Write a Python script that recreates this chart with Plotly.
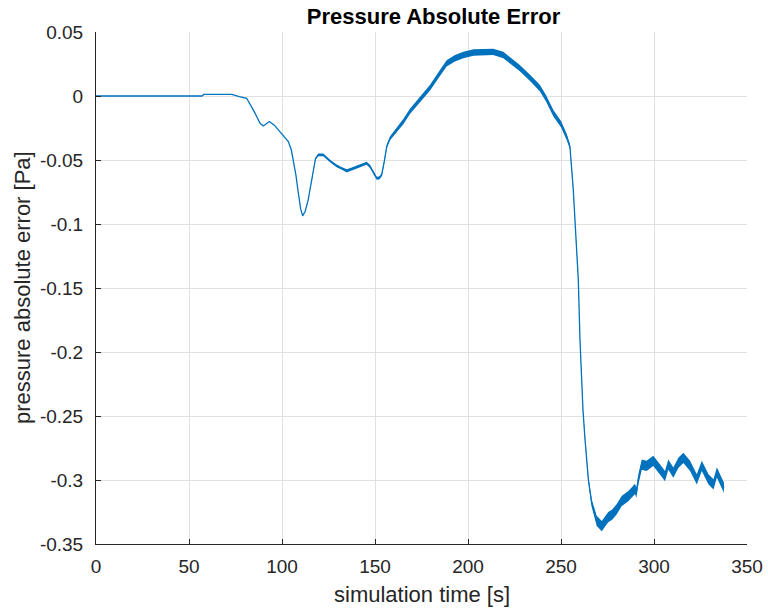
import plotly.graph_objects as go

# ---- data ----
time = [0, 57, 58, 73, 77, 81, 85, 88.2, 90, 93.2,
        96, 98.9, 101, 103.4, 105, 106, 107.5, 108.8, 110, 111.1,
        112.5, 114.1, 115.5, 116.8, 118, 119.5, 122.2, 126, 129.4, 132,
        134.8, 137.5, 140.2, 143, 145.5, 147.3, 149, 150.9, 152.3, 153.6,
        155, 156.3, 158.1, 161.5, 165.2, 168.8, 172.4, 176, 179.6, 184,
        188.5, 193, 197.5, 203, 208.2, 213.5, 219, 223.5, 228, 233.5,
        238.7, 242, 245.9, 250, 253, 254.8, 255.7, 256.6, 257.5, 258.4,
        259.3, 260.2, 261.8, 262.9, 264.7, 266.5, 269.2, 271.9, 273.5, 275.4,
        277.5, 279.9, 282.6, 286.2, 289.8, 290.5, 291.6, 293.4, 296, 299.6,
        303.2, 305.9, 307.7, 310.4, 313.1, 315.8, 319.4, 323, 325.7, 329.3,
        332, 333.8, 336.3, 337.6]

error = [0, 0, 0.0012, 0.0012, -0.0005, -0.0018, -0.012, -0.0213, -0.0234, -0.020,
         -0.023, -0.0278, -0.031, -0.0356, -0.042, -0.05, -0.062, -0.076, -0.088, -0.0936,
         -0.09, -0.081, -0.069, -0.0577, -0.049, -0.046, -0.046, -0.051, -0.0546, -0.0565,
         -0.0585, -0.057, -0.0556, -0.054, -0.0525, -0.055, -0.059, -0.0642, -0.064, -0.0616,
         -0.051, -0.0395, -0.033, -0.027, -0.020, -0.012, -0.0057, 0.001, 0.0065, 0.016,
         0.0255, 0.0295, 0.032, 0.034, 0.0345, 0.0345, 0.032, 0.027, 0.0216, 0.014,
         0.006, -0.002, -0.0135, -0.022, -0.0317, -0.0395, -0.055, -0.073, -0.0967, -0.1175,
         -0.1435, -0.19, -0.245, -0.268, -0.2995, -0.318, -0.332, -0.336, -0.333, -0.329,
         -0.327, -0.323, -0.3165, -0.3126, -0.307, -0.310, -0.2995, -0.288, -0.289, -0.285,
         -0.2917, -0.297, -0.288, -0.2943, -0.2866, -0.2827, -0.289, -0.2995, -0.289, -0.2995,
         -0.3034, -0.294, -0.302, -0.306]

# half-width of the visible noise band around the curve
spread = [0, 0, 0, 0, 0, 0, 0, 0, 0, 0,
          0, 0, 0, 0, 0, 0, 0, 0, 0, 0,
          0, 0, 0.0005, 0.0006, 0.0008, 0.001, 0.001, 0.001, 0.001, 0.001,
          0.0012, 0.0012, 0.0012, 0.0012, 0.0012, 0.0012, 0.0012, 0.0012, 0.0012, 0.0012,
          0.0012, 0.0014, 0.0016, 0.0018, 0.002, 0.002, 0.002, 0.0022, 0.0022, 0.0024,
          0.0025, 0.0025, 0.0025, 0.0025, 0.0025, 0.0025, 0.0025, 0.0025, 0.0025, 0.0025,
          0.0025, 0.0025, 0.0025, 0.0025, 0.0025, 0.002, 0.001, 0.001, 0.001, 0.001,
          0.001, 0.001, 0.001, 0.0015, 0.002, 0.003, 0.004, 0.004, 0.004, 0.004,
          0.004, 0.004, 0.004, 0.004, 0.004, 0.004, 0.004, 0.004, 0.004, 0.004,
          0.004, 0.004, 0.004, 0.004, 0.004, 0.004, 0.004, 0.004, 0.004, 0.004,
          0.004, 0.004, 0.004, 0.004]

xtick_vals = [0, 50, 100, 150, 200, 250, 300, 350]
xtick_labels = ["0", "50", "100", "150", "200", "250", "300", "350"]
ytick_vals = [0.05, 0, -0.05, -0.1, -0.15, -0.2, -0.25, -0.3, -0.35]
ytick_labels = ["0.05", "0", "-0.05", "-0.1", "-0.15", "-0.2", "-0.25", "-0.3", "-0.35"]

title_text = "Pressure Absolute Error"
x_title = "simulation time [s]"
y_title = "pressure absolute error [Pa]"

LINE = "#0072BD"
AX = "#262626"
GRID = "#e1e1e1"
FONT = "Liberation Sans, Arial, Helvetica, sans-serif"

W, H = 768, 611
L, R, T, B = 96, 21, 32, 67
PW, PH = W - L - R, H - T - B

upper = [e + s for e, s in zip(error, spread)]
lower = [e - s for e, s in zip(error, spread)]

fig = go.Figure()
fig.add_trace(go.Scatter(x=time, y=upper, mode="lines", line=dict(width=0, color=LINE),
                         hoverinfo="skip", showlegend=False))
fig.add_trace(go.Scatter(x=time, y=lower, mode="lines", line=dict(width=0, color=LINE),
                         fill="tonexty", fillcolor=LINE, hoverinfo="skip", showlegend=False))
fig.add_trace(go.Scatter(x=time, y=error, mode="lines", line=dict(width=1.3, color=LINE),
                         showlegend=False))

fig.update_layout(
    width=W, height=H,
    margin=dict(l=L, r=R, t=T, b=B, autoexpand=False),
    paper_bgcolor="white", plot_bgcolor="white",
    font=dict(family=FONT, size=19, color=AX),
    title=dict(text="<b>" + title_text + "</b>", x=(433.5 - L) / PW, xref="paper", xanchor="center",
               y=1 - 16 / H, yref="container", yanchor="middle",
               font=dict(family=FONT, size=22, color="black")),
    xaxis=dict(range=[0, 350], tickvals=xtick_vals, ticktext=xtick_labels,
               showgrid=True, gridcolor=GRID, gridwidth=1, zeroline=False,
               showline=True, linecolor=AX, linewidth=1, automargin=False,
               ticks="inside", ticklen=5, tickcolor=AX,
               tickfont=dict(size=19, color=AX), ticklabelstandoff=5),
    yaxis=dict(range=[-0.35, 0.05], tickvals=ytick_vals, ticktext=ytick_labels,
               showgrid=True, gridcolor=GRID, gridwidth=1, zeroline=False,
               showline=True, linecolor=AX, linewidth=1, automargin=False,
               ticks="inside", ticklen=5, tickcolor=AX,
               tickfont=dict(size=19, color=AX), ticklabelstandoff=8),
    annotations=[
        dict(text=x_title, xref="paper", yref="paper", x=0.5, y=-(594 - T - PH) / PH,
             xanchor="center", yanchor="middle", showarrow=False,
             font=dict(family=FONT, size=22, color=AX)),
        dict(text=y_title, xref="paper", yref="paper", x=(22 - L) / PW, y=0.5,
             xanchor="center", yanchor="middle", textangle=-90, showarrow=False,
             font=dict(family=FONT, size=22, color=AX)),
    ],
)

fig.write_html("out.html")
